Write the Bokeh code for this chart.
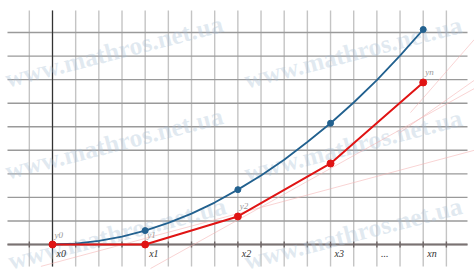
from bokeh.plotting import figure
from bokeh.models import Range1d
from bokeh.core.properties import value
from bokeh.embed import file_html
from bokeh.resources import INLINE
import math

# ---- data (grid units) ----
grid_x = list(range(-1, 18))          # vertical grid lines
grid_y = list(range(0, 10))           # horizontal grid lines
curve_x = list(range(0, 17))          # exact solution samples
curve_y = [0, 0.04, 0.15, 0.33, 0.59, 0.92, 1.31, 1.78, 2.33, 2.93, 3.6,
           4.35, 5.15, 6.03, 6.98, 8.02, 9.13]
node_x = [0, 4, 8, 12, 16]
exact_y = [0, 0.59, 2.33, 5.15, 9.13]
euler_y = [0, 0, 1.19, 3.44, 6.88]
x_labels = ["x0", "x1", "x2", "x3", "...", "xn"]
x_label_pos = [0, 4, 8, 12, 14, 16]
y_labels = ["y0", "y1", "y2", "yn"]
y_label_idx = [0, 1, 2, 4]
# faint tangent lines (start x, start y, end x, end y)
tan_x0 = [-0.5, 4.23, 15.0, 15.45]
tan_y0 = [-0.93, -1.02, 4.75, 5.6]
tan_x1 = [18.2, 18.2, 18.2, 18.2]
tan_y1 = [4.0, 6.62, 6.97, 8.7]
wm_text = "www.mathros.net.ua"

W, H = 474, 276
UX, UY = 23.17, 23.55
OX, OY = 52, 244

def px2x(px):
    return (px - OX) / UX

def px2y(py):
    return (OY - py) / UY

p = figure(width=W, height=H, output_backend="svg", toolbar_location=None,
           x_range=Range1d(px2x(0), px2x(W)), y_range=Range1d(px2y(H), px2y(0)),
           x_axis_type=None, y_axis_type=None, min_border=0)
p.min_border_left = p.min_border_right = p.min_border_top = p.min_border_bottom = 0
p.outline_line_color = None
p.xgrid.visible = False
p.ygrid.visible = False
p.background_fill_color = "white"

# vertical grid
p.segment(x0=grid_x, y0=[px2y(266)] * len(grid_x), x1=grid_x, y1=[px2y(10)] * len(grid_x),
          line_color="#c4c4c4", line_width=1.4)
# horizontal grid
p.segment(x0=[px2x(7)] * len(grid_y), y0=grid_y, x1=[px2x(467)] * len(grid_y), y1=grid_y,
          line_color="#9a9a9a", line_width=1.4)
# axes
p.segment(x0=[px2x(7)], y0=[0], x1=[px2x(467)], y1=[0], line_color="#7a7272", line_width=2)
p.segment(x0=[0], y0=[px2y(266)], x1=[0], y1=[px2y(10)], line_color="#333333", line_width=1.2)
# ticks on x axis
p.segment(x0=grid_x, y0=[-0.13] * len(grid_x), x1=grid_x, y1=[0.13] * len(grid_x),
          line_color="#6f6666", line_width=1.4)

# watermark
wm_px = [(5, 79), (244, 80), (5, 171), (244, 173), (8, 261), (244, 261)]
p.text(x=[px2x(a) for a, b in wm_px], y=[px2y(b) for a, b in wm_px],
       text=[wm_text] * len(wm_px), angle=math.radians(14.5),
       text_font=value("Liberation Serif"), text_font_style="bold",
       text_font_size="25.5px", text_color="#a9bfd6", text_alpha=0.35,
       text_align="left", text_baseline="alphabetic")

# faint tangent lines
p.segment(x0=tan_x0, y0=tan_y0, x1=tan_x1, y1=tan_y1, line_color="#f4b0b0",
          line_width=1, line_alpha=0.55)

# exact solution
p.line(curve_x, curve_y, line_color="#22618f", line_width=1.8)
p.scatter(node_x, exact_y, size=6, color="#22618f")
# Euler polyline
p.line(node_x, euler_y, line_color="#e01414", line_width=2)
p.scatter(node_x, euler_y, size=7, color="#e01414")

# labels
p.text(x=x_label_pos, y=[0] * len(x_label_pos), text=x_labels,
       text_font=value("Liberation Serif"), text_font_style="italic",
       text_font_size="10px", text_color="#333333", x_offset=4, y_offset=9,
       text_align="left", text_baseline="middle")
p.text(x=[node_x[i] for i in y_label_idx], y=[euler_y[i] for i in y_label_idx],
       text=y_labels, text_font=value("Liberation Serif"), text_font_style="italic",
       text_font_size="9px", text_color="#9a9a9a", x_offset=2, y_offset=-10,
       text_align="left", text_baseline="middle")

open("out.html", "w").write(file_html(p, INLINE))
